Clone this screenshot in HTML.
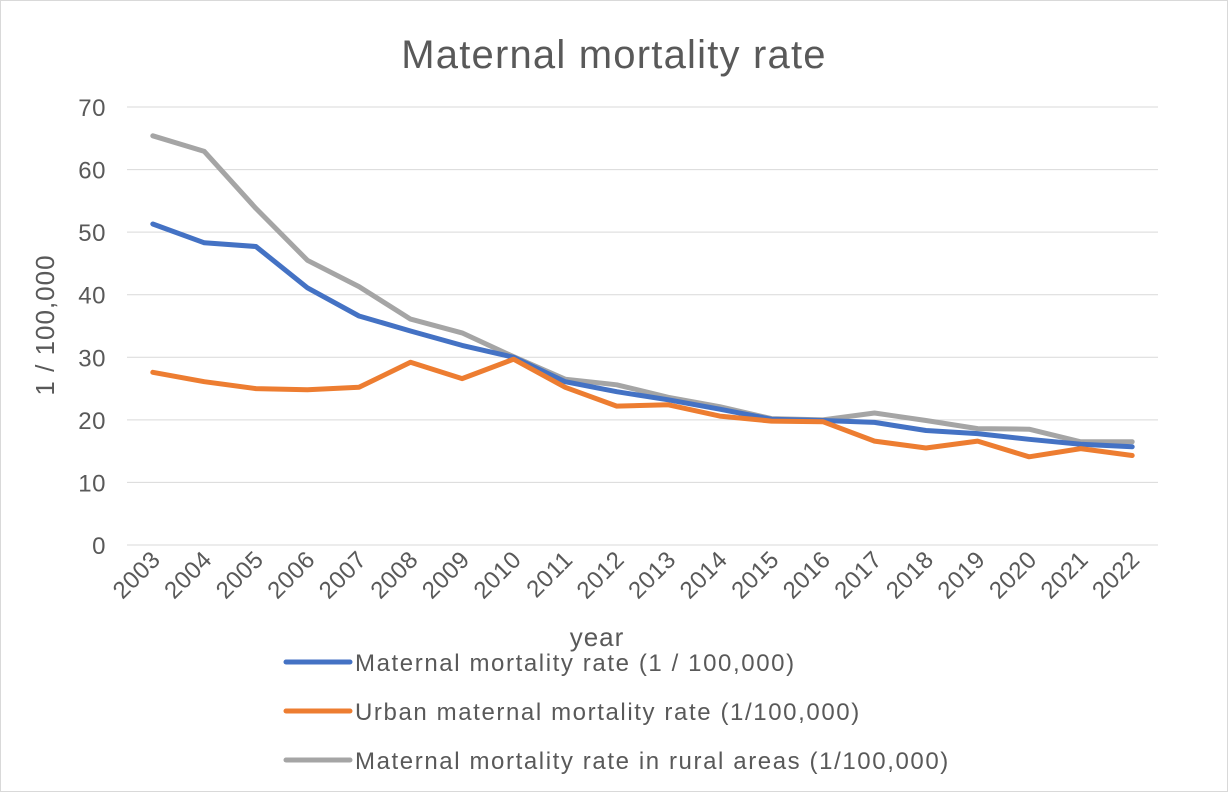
<!DOCTYPE html>
<html><head><meta charset="utf-8"><style>
body{margin:0;background:#fff;}
svg{display:block;font-family:"Liberation Sans","Noto Sans CJK SC",sans-serif;}
</style></head><body>
<svg id="chart" width="1228" height="792">
<rect x="0.5" y="0.5" width="1227" height="791" fill="#fff" stroke="#d9d9d9"/>
<text x="614" y="68" text-anchor="middle" font-size="40" letter-spacing="1.2" fill="#595959">Maternal mortality rate</text>
<g id="grid"></g><g id="yticks"></g><g id="xticks"></g><g id="series"></g>
<text transform="translate(54,325) rotate(-90)" text-anchor="middle" font-size="26" letter-spacing="1" fill="#595959">1 / 100,000</text>
<text x="597" y="646" text-anchor="middle" font-size="26" letter-spacing="1" fill="#595959">year</text>
<g id="legend"></g>
</svg>
<script>
const years=[2003,2004,2005,2006,2007,2008,2009,2010,2011,2012,2013,2014,2015,2016,2017,2018,2019,2020,2021,2022];
const totalRate=[51.3,48.3,47.7,41.1,36.6,34.2,31.9,30.0,26.1,24.5,23.2,21.7,20.1,19.9,19.6,18.3,17.8,16.9,16.1,15.7];
const urbanRate=[27.6,26.1,25.0,24.8,25.2,29.2,26.6,29.7,25.2,22.2,22.4,20.6,19.8,19.7,16.6,15.5,16.6,14.1,15.4,14.3];
const ruralRate=[65.4,62.9,53.8,45.5,41.3,36.1,33.9,30.1,26.5,25.6,23.6,22.1,20.2,20.0,21.1,19.9,18.6,18.5,16.5,16.5];
const yTicks=[0,10,20,30,40,50,60,70];
const seriesNames=["Maternal mortality rate (1 / 100,000)","Urban maternal mortality rate (1/100,000)","Maternal mortality rate in rural areas (1/100,000)"];
const NS="http://www.w3.org/2000/svg";
const x0=127,x1=1158,yb=545,yt=107;
const step=(x1-x0)/years.length;
const xs=i=>x0+step*(i+0.5);
const ys=v=>yb-(v/70)*(yb-yt);
function mk(t,a,p){const e=document.createElementNS(NS,t);for(const k in a)e.setAttribute(k,a[k]);p.appendChild(e);return e;}
const grid=document.getElementById('grid'),yg=document.getElementById('yticks'),xg=document.getElementById('xticks'),sg=document.getElementById('series'),lg=document.getElementById('legend');
yTicks.forEach(v=>{
 const l=mk('line',{x1:x0,x2:x1,y1:ys(v),y2:ys(v),stroke:'#d9d9d9','stroke-width':1},grid);
 
 
 const t=mk('text',{x:106,y:ys(v)+9,'text-anchor':'end','font-size':24,'letter-spacing':0.5,fill:'#595959'},yg);
 t.textContent=v;
 
 
});
years.forEach((y,i)=>{
 const t=mk('text',{transform:`translate(${xs(i)+9},${561}) rotate(-45)`,'text-anchor':'end','font-size':24,'letter-spacing':0.5,fill:'#595959'},xg);
 t.textContent=y;
 
 
});
const data=[totalRate,urbanRate,ruralRate],colors=['#4472c4','#ed7d31','#a5a5a5'];
[2,0,1].forEach(k=>{
 const d=data[k].map((v,i)=>(i?'L':'M')+xs(i).toFixed(1)+','+ys(v).toFixed(1)).join('');
 const p=mk('path',{d:d,fill:'none',stroke:colors[k],'stroke-width':5,'stroke-linejoin':'round','stroke-linecap':'round'},sg);
 
 
});
seriesNames.forEach((n,k)=>{
 const y=662+k*49;
 const l=mk('line',{x1:286,x2:350,y1:y,y2:y,stroke:colors[k],'stroke-width':5,'stroke-linecap':'round'},lg);
 
 
 const t=mk('text',{x:355,y:y+9,'font-size':24,'letter-spacing':1.6,fill:'#595959'},lg);
 t.textContent=n;
 
 
});
</script>
</body></html>
